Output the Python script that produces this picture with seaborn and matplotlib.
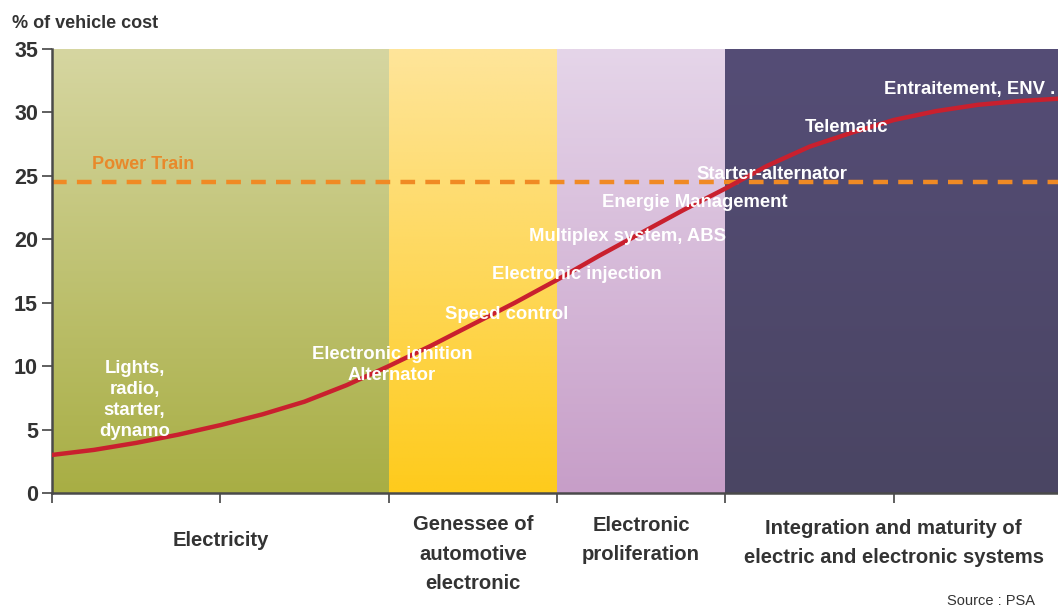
import numpy as np
import pandas as pd
import matplotlib
matplotlib.use("Agg")
import matplotlib.pyplot as plt
from matplotlib.colors import LinearSegmentedColormap
import seaborn as sns

# Share of electric/electronic content in vehicle cost over successive eras
era_pos = [0.0, 0.25, 0.5, 0.75, 1.0, 1.25, 1.5, 1.75, 2.0, 2.25, 2.5, 2.75, 3.0,
           3.25, 3.5, 3.75, 4.0, 4.25, 4.5, 4.75, 5.0, 5.25, 5.5, 5.75, 6.0]
cost_share = [3.0, 3.4, 3.95, 4.6, 5.35, 6.2, 7.2, 8.5, 10.0, 11.6, 13.3, 15.0, 16.8,
              18.7, 20.5, 22.3, 24.0, 25.8, 27.3, 28.4, 29.4, 30.1, 30.6, 30.9, 31.1]

power_train = 24.5

# Eras: start, end, label, top colour, bottom colour
era_start = [0, 2, 3, 4]
era_end = [2, 3, 4, 6]
era_labels = ["Electricity", "Genessee of\nautomotive\nelectronic",
              "Electronic\nproliferation",
              "Integration and maturity of\nelectric and electronic systems"]
era_label_y = [541, 554, 540, 543]
era_top = ["#D6D6A1", "#FEE59A", "#E5D5E9", "#554D76"]
era_bottom = ["#A8AE44", "#FECB1C", "#C79EC8", "#4A4563"]

# Technology milestones placed along the curve
milestones = ["Lights,\nradio,\nstarter,\ndynamo", "Electronic ignition\nAlternator",
              "Speed control", "Electronic injection", "Multiplex system, ABS",
              "Energie Management", "Starter-alternator", "Telematic",
              "Entraitement, ENV ."]
milestone_x = [0.49, 2.02, 2.70, 3.12, 3.42, 3.82, 4.28, 4.72, 5.45]
milestone_y = [7.35, 10.1, 14.1, 17.2, 20.2, 22.9, 25.1, 28.8, 31.8]

y_ticks = [0, 5, 10, 15, 20, 25, 30, 35]

sns.set_theme(style="white")
plt.rcParams["font.family"] = ["Liberation Sans", "DejaVu Sans"]

W, H = 1058, 608
fig = plt.figure(figsize=(W / 100, H / 100), dpi=100)
ax = fig.add_axes([52 / W, (H - 493) / H, (1062 - 52) / W, (493 - 49) / H])

# Vertical gradient background for each era
grad = np.linspace(1, 0, 256).reshape(-1, 1)
for x0, x1, ctop, cbot in zip(era_start, era_end, era_top, era_bottom):
    cmap = LinearSegmentedColormap.from_list("band", [cbot, ctop])
    ax.imshow(grad, extent=[x0, x1, 0, 35], aspect="auto", cmap=cmap,
              vmin=0, vmax=1, zorder=0, interpolation="bilinear")

# Power train threshold
ax.axhline(power_train, color="#F08A24", lw=3.2, ls=(0, (3.3, 2.3)), zorder=2)
ax.text(0.24, power_train + 0.75, "Power Train", color="#E8892B", fontsize=13,
        fontweight="bold", ha="left", va="bottom", zorder=4)

# Cost curve
df = pd.DataFrame({"era": era_pos, "share": cost_share})
sns.lineplot(data=df, x="era", y="share", ax=ax, color="#C9202E", lw=3.2,
             zorder=3, legend=False)

for label, mx, my in zip(milestones, milestone_x, milestone_y):
    ax.text(mx, my, label, color="white", fontsize=13.3, fontweight="bold",
            ha="center", va="center", linespacing=1.32, zorder=5)

ax.set_xlim(0, 6)
ax.set_ylim(0, 35)
ax.set_xticks(range(7))
ax.set_xticklabels([])
ax.set_yticks(y_ticks)
ax.set_yticklabels([str(t) for t in y_ticks], fontsize=15.5, fontweight="bold",
                   color="#333333")
ax.tick_params(axis="y", direction="out", length=7, width=1.2, color="#444444",
               left=True, pad=3)
ax.tick_params(axis="x", direction="out", length=7, width=1.2, color="#444444",
               bottom=True)
ax.set_xlabel("")
ax.set_ylabel("")
for side in ["top", "right"]:
    ax.spines[side].set_visible(False)
for side in ["left", "bottom"]:
    ax.spines[side].set_color("#4A4A4A")
    ax.spines[side].set_linewidth(1.8)
ax.grid(False)

# Era names under the axis
for x0, x1, lab, py in zip(era_start, era_end, era_labels, era_label_y):
    xc = ax.transData.transform(((x0 + x1) / 2, 0))[0] / W
    fig.text(xc, 1 - py / H, lab, ha="center", va="center", fontsize=14.6,
             fontweight="bold", color="#333333", linespacing=1.68)

fig.text(12 / W, 1 - 23 / H, "% of vehicle cost", fontsize=13, fontweight="bold",
         color="#333333", ha="left", va="center")
fig.text(1035 / W, 1 - 601 / H, "Source : PSA", fontsize=10.5, color="#333333",
         ha="right", va="center")

fig.savefig("out.png", dpi=100)
